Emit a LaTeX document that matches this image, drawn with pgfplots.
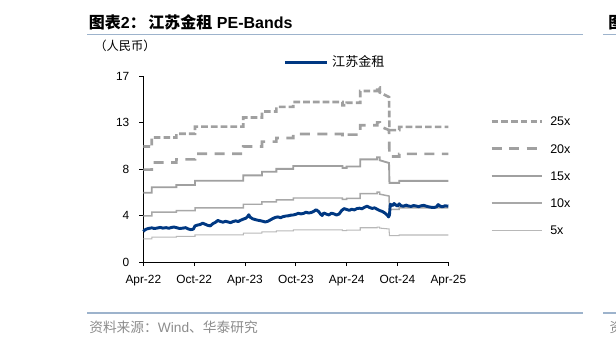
\documentclass[border=0pt]{standalone}
\usepackage{fontspec}
\setmainfont{Liberation Sans}
\newfontfamily\cjk{Noto Sans CJK SC}
\usepackage{pgfplots}
\pgfplotsset{compat=1.18}
\definecolor{blueline}{HTML}{003882}
\definecolor{band}{HTML}{A0A0A0}
\definecolor{bandten}{HTML}{A8A8A8}
\definecolor{bandfive}{HTML}{B8B8B8}
\definecolor{rulec}{HTML}{9DB3CC}
\definecolor{srcgray}{HTML}{8C8C8C}
\begin{document}
\begin{tikzpicture}[x=1pt,y=1pt]
\path[use as bounding box] (0,0) rectangle (462,258);
% title
\node[anchor=base west, inner sep=0pt] at (66.5,236.5) {\fontsize{12}{14}\selectfont{\cjk\bfseries 图表}\textbf{2}{\cjk\bfseries ：\,江苏金租} \textbf{PE-Bands}};
\node[anchor=base west, inner sep=0pt] at (456,236.5) {\fontsize{12}{14}\selectfont{\cjk\bfseries 图}};
\draw[rulec, line width=0.9pt] (65.25,232) -- (437,232);
\draw[rulec, line width=0.9pt] (452.25,232) -- (470,232);
\node[anchor=west, inner sep=0pt] at (70.5,223.5) {\fontsize{9.2}{11}\selectfont\cjk （人民币）};
% bottom source
\draw[rulec, line width=0.9pt] (65.25,23.25) -- (437,23.25);
\draw[rulec, line width=0.9pt] (452.25,23.25) -- (470,23.25);
\node[anchor=west, inner sep=0pt, text=srcgray] at (66.75,12.5) {\fontsize{10.3}{12}\selectfont{\cjk 资料来源：}Wind{\cjk 、华泰研究}};
\node[anchor=west, inner sep=0pt, text=srcgray] at (457,12.5) {\fontsize{10.3}{12}\selectfont{\cjk 资}};
\begin{axis}[
  at={(107.5pt,61.5pt)}, anchor=south west, scale only axis,
  width=228.75pt, height=139.5pt,
  xmin=0, xmax=36, ymin=0, ymax=17,
  axis x line*=bottom, axis y line*=left,
  axis line style={black, line width=0.6pt, -},
  xtick={0,6,...,36},
  xticklabels={Apr-22,Oct-22,Apr-23,Oct-23,Apr-24,Oct-24,Apr-25},
  ytick={0,4.25,8.5,12.75,17}, yticklabels={0,4,8,13,17},
  tick align=outside, major tick length=3pt,
  tick style={black, line width=0.6pt},
  ticklabel style={font=\fontsize{8.9}{10}\selectfont},
  yticklabel style={xshift=-4pt},
  xticklabel style={yshift=-3pt},
  /pgf/number format/assume math mode=true,
  legend style={draw=none, fill=none, at={(1.1366,0.783)}, anchor=north west,
    font=\fontsize{9.4}{10}\selectfont, row sep=13.4pt, inner sep=0pt,
    nodes={inner sep=0pt, text height=7pt, text depth=0pt}},
  legend cell align=left,
  legend image code/.code={\draw[#1] (0pt,0pt) -- (37.5pt,0pt); \path (43pt,0pt);},
  clip=false,
]
\addplot[band, line width=2pt, dash pattern=on 5pt off 2.3pt] coordinates {
(0,10.55) (1.0,10.55) (1.0,11.375) (3.9,11.375) (3.9,11.725) (6.1,11.725) (6.1,12.375) (11.8,12.375) (11.8,13.20) (14.0,13.20) (14.0,13.75) (15.7,13.75) (15.7,14.175) (17.7,14.175) (17.7,14.625) (23.5,14.625) (23.5,14.325) (24.0,14.325) (24.0,14.55) (25.6,14.55) (25.6,15.625) (27.6,15.625) (27.6,15.95) (27.9,15.95) (27.9,15.50) (29.0,15.075) (29.05,12.05) (30.2,12.05) (30.2,12.35) (36,12.35)};
\addlegendentry{25x}
\addplot[band, line width=2pt, dash pattern=on 7.5pt off 5.6pt] coordinates {
(0,8.44) (1.0,8.44) (1.0,9.10) (3.9,9.10) (3.9,9.38) (6.1,9.38) (6.1,9.90) (11.8,9.90) (11.8,10.56) (14.0,10.56) (14.0,11.00) (15.7,11.00) (15.7,11.34) (17.7,11.34) (17.7,11.70) (23.5,11.70) (23.5,11.46) (24.0,11.46) (24.0,11.64) (25.6,11.64) (25.6,12.50) (27.6,12.50) (27.6,12.76) (27.9,12.76) (27.9,12.40) (29.0,12.06) (29.05,9.64) (30.2,9.64) (30.2,9.88) (36,9.88)};
\addlegendentry{20x}
\addplot[band, line width=1.4pt] coordinates {
(0,6.33) (1.0,6.33) (1.0,6.83) (3.9,6.83) (3.9,7.04) (6.1,7.04) (6.1,7.43) (11.8,7.43) (11.8,7.92) (14.0,7.92) (14.0,8.25) (15.7,8.25) (15.7,8.51) (17.7,8.51) (17.7,8.78) (23.5,8.78) (23.5,8.60) (24.0,8.60) (24.0,8.73) (25.6,8.73) (25.6,9.38) (27.6,9.38) (27.6,9.57) (27.9,9.57) (27.9,9.30) (29.0,9.05) (29.05,7.23) (30.2,7.23) (30.2,7.41) (36,7.41)};
\addlegendentry{15x}
\addplot[bandten, line width=1.1pt] coordinates {
(0,4.22) (1.0,4.22) (1.0,4.55) (3.9,4.55) (3.9,4.69) (6.1,4.69) (6.1,4.95) (11.8,4.95) (11.8,5.28) (14.0,5.28) (14.0,5.50) (15.7,5.50) (15.7,5.67) (17.7,5.67) (17.7,5.85) (23.5,5.85) (23.5,5.73) (24.0,5.73) (24.0,5.82) (25.6,5.82) (25.6,6.25) (27.6,6.25) (27.6,6.38) (27.9,6.38) (27.9,6.20) (29.0,6.03) (29.05,4.82) (30.2,4.82) (30.2,4.94) (36,4.94)};
\addlegendentry{10x}
\addplot[bandfive, line width=0.8pt] coordinates {
(0,2.11) (1.0,2.11) (1.0,2.28) (3.9,2.28) (3.9,2.35) (6.1,2.35) (6.1,2.48) (11.8,2.48) (11.8,2.64) (14.0,2.64) (14.0,2.75) (15.7,2.75) (15.7,2.84) (17.7,2.84) (17.7,2.93) (23.5,2.93) (23.5,2.87) (24.0,2.87) (24.0,2.91) (25.6,2.91) (25.6,3.13) (27.6,3.13) (27.6,3.19) (27.9,3.19) (27.9,3.10) (29.0,3.02) (29.05,2.41) (30.2,2.41) (30.2,2.47) (36,2.47)};
\addlegendentry{5x}
\end{axis}
\begin{axis}[
  at={(107.5pt,61.5pt)}, anchor=south west, scale only axis,
  width=228.75pt, height=139.5pt,
  xmin=0, xmax=36, ymin=0, ymax=17,
  hide axis, clip=false,
  legend style={draw=none, fill=none, at={(0.458,1.075)}, anchor=west,
    font=\fontsize{9.8}{11}\selectfont\cjk, inner sep=0pt,
    nodes={inner sep=0pt, text height=7pt, text depth=0pt}},
  legend image code/.code={\draw[#1] (0pt,0pt) -- (32pt,0pt); \path (34.5pt,0pt);},
]
\addplot[blueline, line width=2.2pt, line join=round] coordinates {
(0,2.80) (0.15,2.92) (0.4,3.02) (0.7,3.08) (1.0,3.12) (1.3,3.06) (1.6,3.10) (2.0,3.16) (2.3,3.10) (2.7,3.14) (3.0,3.08) (3.3,3.15) (3.6,3.20) (4.0,3.12) (4.3,3.06) (4.7,3.10) (5.0,3.14) (5.3,3.02) (5.6,2.96) (5.9,3.00) (6.1,3.30) (6.4,3.38) (6.7,3.42) (7.0,3.55) (7.3,3.45) (7.6,3.35) (7.9,3.30) (8.2,3.50) (8.5,3.62) (8.8,3.80) (9.1,3.70) (9.4,3.64) (9.7,3.72) (10.0,3.66) (10.3,3.60) (10.6,3.70) (10.9,3.76) (11.2,3.70) (11.5,3.82) (11.8,3.92) (12.1,4.00) (12.3,4.15) (12.45,4.32) (12.6,4.10) (12.9,3.95) (13.2,3.88) (13.5,3.82) (13.8,3.78) (14.1,3.72) (14.4,3.66) (14.7,3.72) (15.0,3.85) (15.3,3.98) (15.6,4.08) (15.9,4.12) (16.2,4.05) (16.5,4.15) (16.8,4.20) (17.1,4.22) (17.4,4.28) (17.7,4.30) (18.0,4.36) (18.3,4.45) (18.6,4.40) (18.9,4.44) (19.2,4.55) (19.5,4.48) (19.8,4.52) (20.1,4.62) (20.4,4.78) (20.7,4.60) (20.9,4.40) (21.1,4.25) (21.3,4.48) (21.6,4.38) (21.9,4.30) (22.2,4.46) (22.5,4.40) (22.8,4.30) (23.1,4.38) (23.4,4.70) (23.7,4.88) (24.0,4.80) (24.3,4.72) (24.6,4.82) (24.9,4.76) (25.2,4.88) (25.5,4.92) (25.8,4.86) (26.1,5.00) (26.4,5.10) (26.7,4.98) (27.0,4.90) (27.3,4.95) (27.6,4.82) (27.9,4.70) (28.2,4.62) (28.5,4.48) (28.8,4.28) (28.95,4.12) (29.05,4.30) (29.15,5.28) (29.4,5.15) (29.6,5.35) (29.8,5.20) (30.0,5.12) (30.2,5.32) (30.4,5.15) (30.7,5.10) (31.0,5.20) (31.3,5.12) (31.6,5.08) (31.9,5.16) (32.2,5.12) (32.5,5.06) (32.8,5.14) (33.1,5.18) (33.4,5.10) (33.7,5.04) (34.0,5.00) (34.3,4.98) (34.6,5.04) (34.8,5.25) (35.0,5.12) (35.3,5.04) (35.6,5.14) (36.0,5.10)};
\addlegendentry{江苏金租}
\end{axis}
\end{tikzpicture}
\end{document}
